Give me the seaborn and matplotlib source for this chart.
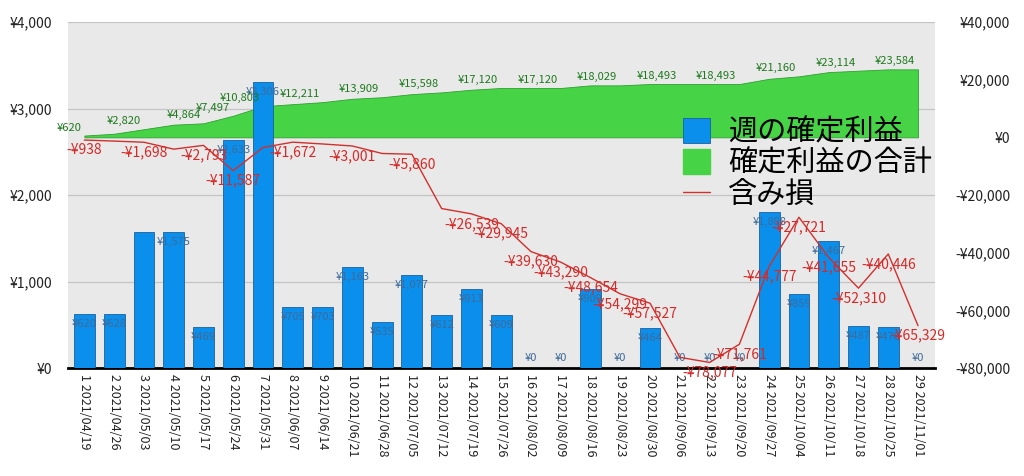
import numpy as np
import pandas as pd
import matplotlib
matplotlib.use("Agg")
import matplotlib.pyplot as plt
import seaborn as sns
from matplotlib.patches import Patch
from matplotlib.lines import Line2D

sns.set_theme(style="white")
plt.rcParams["font.family"] = ["Noto Sans CJK JP", "DejaVu Sans"]

# ---------------- data ----------------
week_no = list(range(1, 30))
dates = ["2021/04/19", "2021/04/26", "2021/05/03", "2021/05/10", "2021/05/17",
         "2021/05/24", "2021/05/31", "2021/06/07", "2021/06/14", "2021/06/21",
         "2021/06/28", "2021/07/05", "2021/07/12", "2021/07/19", "2021/07/26",
         "2021/08/02", "2021/08/09", "2021/08/16", "2021/08/23", "2021/08/30",
         "2021/09/06", "2021/09/13", "2021/09/20", "2021/09/27", "2021/10/04",
         "2021/10/11", "2021/10/18", "2021/10/25", "2021/11/01"]
weekly_profit = [620, 628, 1572, 1575, 469, 2633, 3306, 705, 703, 1163, 535, 1077,
                 612, 913, 609, 0, 0, 909, 0, 464, 0, 0, 0, 1808, 859, 1467, 487,
                 470, 0]
cumulative_profit = [620, 1248, 2820, 4395, 4864, 7497, 10803, 11508, 12211, 13374,
                     13909, 14986, 15598, 16511, 17120, 17120, 17120, 18029, 18029,
                     18493, 18493, 18493, 18493, 20301, 21160, 22627, 23114, 23584,
                     23584]
unrealized_loss = [-938, -1300, -1698, -4100, -2793, -11587, -3500, -1672, -2300,
                   -3001, -5600, -5860, -24700, -26539, -29945, -39630, -43290,
                   -48654, -54299, -57527, -76300, -78077, -71761, -44777, -27721,
                   -41655, -52310, -40446, -65329]
series_names = ["週の確定利益", "確定利益の合計", "含み損"]

# which points carry a data label (as in the reference)
cum_label_idx = [0, 2, 4, 5, 6, 8, 10, 12, 14, 16, 18, 20, 22, 24, 26, 28]
loss_label_idx = [0, 2, 4, 5, 7, 9, 11, 13, 14, 15, 16, 17, 18, 19, 21, 22, 23,
                  24, 25, 26, 27, 28]
bar_label_skip = [2]

left_ticks = [0, 1000, 2000, 3000, 4000]
right_ticks = [-80000, -60000, -40000, -20000, 0, 20000, 40000]

tick_labels = [f"{n} {d}" for n, d in zip(week_no, dates)]


def yen(v):
    return f"-¥{abs(v):,.0f}" if v < 0 else f"¥{v:,.0f}"


df = pd.DataFrame({
    "pos": np.arange(len(week_no)),
    "weekly": weekly_profit,
    "cumulative": cumulative_profit,
    "loss": unrealized_loss,
})

# ---------------- colours ----------------
BLUE = "#0a8fec"
BLUE_EDGE = "#1d5f9c"
BLUE_TXT = "#3f6b99"
GREEN = "#46d446"
GREEN_EDGE = "#2f9f2f"
GREEN_TXT = "#1d7a1d"
RED = "#d2302c"
RED_TXT = "#d42a28"

# ---------------- figure ----------------
fig = plt.figure(figsize=(10.24, 4.76), dpi=100)
ax = fig.add_axes([68 / 1024, 1 - 368 / 476, (935 - 68) / 1024, 346 / 476])
ax.set_facecolor("#e9e9e9")
ax2 = ax.twinx()
ax2.set_zorder(ax.get_zorder() + 1)
ax2.patch.set_visible(False)

# grid (left scale) below everything
ax.set_axisbelow(True)
ax.yaxis.grid(True, color="#c4c4c4", linewidth=0.9)
ax.xaxis.grid(False)

# cumulative area: belongs to ax (under the bars) but uses the right-axis scale
ax.fill_between(df["pos"], 0, df["cumulative"], transform=ax2.transData,
                facecolor=GREEN, edgecolor=GREEN_EDGE, linewidth=0.6, zorder=1)

# weekly bars
sns.barplot(data=df, x="pos", y="weekly", ax=ax, native_scale=True, width=0.7,
            color=BLUE, saturation=1, edgecolor=BLUE_EDGE, linewidth=0.6,
            errorbar=None, zorder=3)

# unrealized loss line (right scale)
sns.lineplot(data=df, x="pos", y="loss", ax=ax2, color=RED, linewidth=1.0,
             sort=False, legend=False)

# ---------------- labels ----------------
for i, v in enumerate(weekly_profit):
    if i in bar_label_skip:
        continue
    ax.annotate(yen(v), (df["pos"][i], v), xytext=(0, -10 if v > 0 else 10),
                textcoords="offset pixels", ha="center", va="center",
                fontsize=8, color=BLUE_TXT, zorder=5)

for i in cum_label_idx:
    ax2.annotate(yen(cumulative_profit[i]), (df["pos"][i], cumulative_profit[i]),
                 xytext=(-3, 8), textcoords="offset pixels", ha="right",
                 va="center", fontsize=8, color=GREEN_TXT)

for i in loss_label_idx:
    ax2.annotate(yen(unrealized_loss[i]), (df["pos"][i], unrealized_loss[i]),
                 xytext=(0, -10), textcoords="offset pixels", ha="center",
                 va="center", fontsize=10, color=RED_TXT)

# ---------------- axes ----------------
ax.set_ylim(left_ticks[0], left_ticks[-1])
ax2.set_ylim(right_ticks[0], right_ticks[-1])
ax.set_xlim(-0.55, len(week_no) - 1 + 0.57)

ax.set_yticks(left_ticks)
ax.set_yticklabels([yen(t) for t in left_ticks])
ax2.set_yticks(right_ticks)
ax2.set_yticklabels([yen(t) for t in right_ticks], ha="right")

ax.set_xticks(df["pos"])
ax.set_xticklabels(tick_labels, rotation=-90, ha="center", va="top")

ax.tick_params(axis="y", length=0, pad=11.5, labelsize=10, labelcolor="#222222")
ax2.tick_params(axis="y", length=0, pad=54, labelsize=10, labelcolor="#222222")
ax.tick_params(axis="x", length=0, pad=4, labelsize=9, labelcolor="#222222")

for a in (ax, ax2):
    for s in ("top", "left", "right"):
        a.spines[s].set_visible(False)
    a.set_xlabel("")
    a.set_ylabel("")
ax2.spines["bottom"].set_visible(False)
ax.spines["bottom"].set_color("black")
ax.spines["bottom"].set_linewidth(2)

# ---------------- legend ----------------
handles = [Patch(facecolor=BLUE, edgecolor=BLUE_EDGE, linewidth=0.6),
           Patch(facecolor=GREEN, edgecolor=GREEN),
           Line2D([], [], color=RED, linewidth=1.0)]
leg = ax2.legend(handles, series_names, loc="upper left",
                 bbox_to_anchor=(0.709, 0.725), frameon=False, fontsize=21,
                 handlelength=0.95, handleheight=0.95, handletextpad=0.6,
                 labelspacing=0.05, borderaxespad=0, borderpad=0)
for t in leg.get_texts():
    t.set_color("black")

fig.savefig("out.png", dpi=100)
